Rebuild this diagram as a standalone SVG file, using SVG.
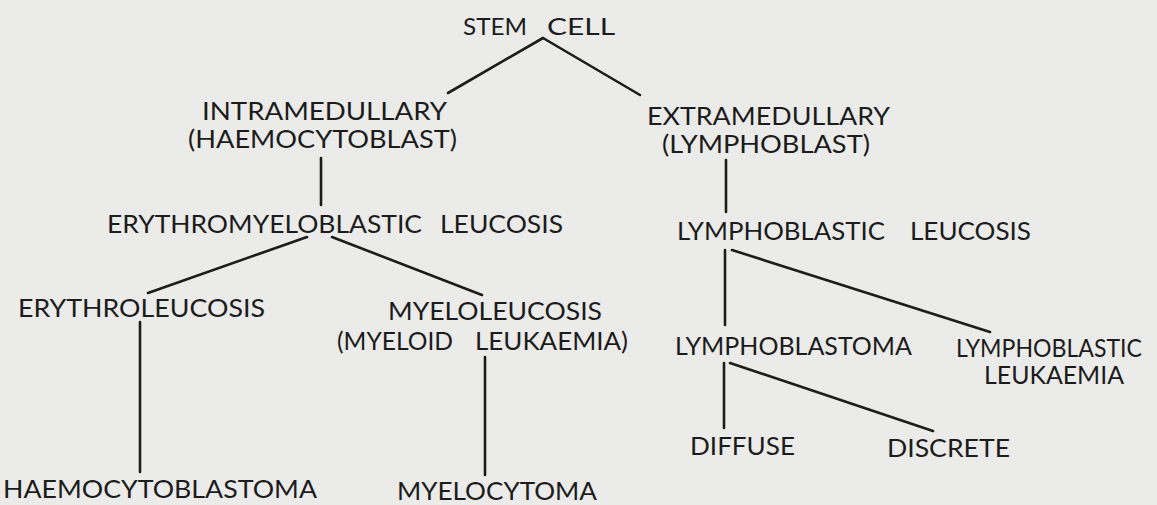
<svg xmlns="http://www.w3.org/2000/svg" width="1157" height="505" viewBox="0 0 1157 505">
<style>
.bg{fill:#ebebe9}
text{font-family:Lato,"Liberation Sans",sans-serif;font-size:25px;fill:#1c1c1c}
.sm{font-size:24px}
.c line{stroke:#1c1c1c;stroke-width:2.6;stroke-linecap:round}
</style>
<rect class="bg" x="0" y="0" width="1157" height="505"/>
<g class="c" id="connectors">
<line x1="543" y1="38" x2="448" y2="93"/>
<line x1="543" y1="38" x2="640" y2="95"/>
<line x1="321" y1="158" x2="321" y2="205"/>
<line x1="307" y1="237" x2="148" y2="293"/>
<line x1="332" y1="237" x2="482" y2="295"/>
<line x1="140" y1="322" x2="140" y2="472"/>
<line x1="485" y1="357" x2="485" y2="475"/>
<line x1="726" y1="160" x2="726" y2="212"/>
<line x1="725" y1="250" x2="725" y2="325"/>
<line x1="732" y1="250" x2="990" y2="332"/>
<line x1="724" y1="363" x2="724" y2="428"/>
<line x1="730" y1="363" x2="933" y2="431"/>
</g>
<g id="stem-cell">
<text class="sm" x="463" y="35" textLength="64" lengthAdjust="spacingAndGlyphs">STEM</text>
<text class="sm" x="547" y="35" textLength="68" lengthAdjust="spacingAndGlyphs">CELL</text>
</g>
<g id="intramedullary">
<text x="202" y="120" textLength="245" lengthAdjust="spacingAndGlyphs">INTRAMEDULLARY</text>
<text x="188" y="148" textLength="269" lengthAdjust="spacingAndGlyphs">(HAEMOCYTOBLAST)</text>
</g>
<g id="extramedullary">
<text x="647" y="125" textLength="243" lengthAdjust="spacingAndGlyphs">EXTRAMEDULLARY</text>
<text x="662" y="153" textLength="208" lengthAdjust="spacingAndGlyphs">(LYMPHOBLAST)</text>
</g>
<g id="erythromyeloblastic-leucosis">
<text x="107" y="233" textLength="315" lengthAdjust="spacingAndGlyphs">ERYTHROMYELOBLASTIC</text>
<text x="440" y="233" textLength="123" lengthAdjust="spacingAndGlyphs">LEUCOSIS</text>
</g>
<g id="lymphoblastic-leucosis">
<text x="677" y="240" textLength="208" lengthAdjust="spacingAndGlyphs">LYMPHOBLASTIC</text>
<text x="910" y="240" textLength="121" lengthAdjust="spacingAndGlyphs">LEUCOSIS</text>
</g>
<g id="erythroleucosis">
<text x="18" y="317" textLength="247" lengthAdjust="spacingAndGlyphs">ERYTHROLEUCOSIS</text>
</g>
<g id="myeloleucosis">
<text x="388" y="320" textLength="214" lengthAdjust="spacingAndGlyphs">MYELOLEUCOSIS</text>
<text x="337" y="350" textLength="116" lengthAdjust="spacingAndGlyphs">(MYELOID</text>
<text x="475" y="350" textLength="153" lengthAdjust="spacingAndGlyphs">LEUKAEMIA)</text>
</g>
<g id="lymphoblastoma">
<text x="675" y="355" textLength="237" lengthAdjust="spacingAndGlyphs">LYMPHOBLASTOMA</text>
</g>
<g id="lymphoblastic-leukaemia">
<text x="956" y="357" textLength="186" lengthAdjust="spacingAndGlyphs">LYMPHOBLASTIC</text>
<text x="984" y="384" textLength="140" lengthAdjust="spacingAndGlyphs">LEUKAEMIA</text>
</g>
<g id="diffuse">
<text x="690" y="455" textLength="105" lengthAdjust="spacingAndGlyphs">DIFFUSE</text>
</g>
<g id="discrete">
<text x="887" y="457" textLength="123" lengthAdjust="spacingAndGlyphs">DISCRETE</text>
</g>
<g id="haemocytoblastoma">
<text x="3" y="498" textLength="314" lengthAdjust="spacingAndGlyphs">HAEMOCYTOBLASTOMA</text>
</g>
<g id="myelocytoma">
<text x="397" y="500" textLength="200" lengthAdjust="spacingAndGlyphs">MYELOCYTOMA</text>
</g>
</svg>
